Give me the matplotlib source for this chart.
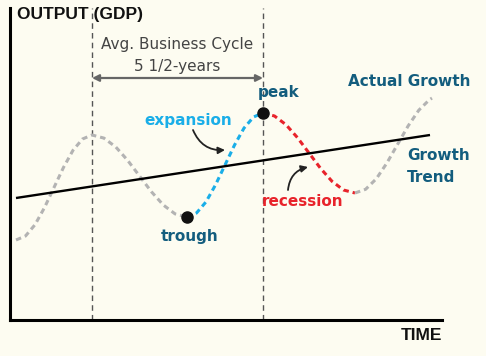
import matplotlib
matplotlib.use("Agg")
import matplotlib.pyplot as plt

# ---- data (time units from left axis, output units from bottom axis) ----
gray1_t = [6, 15.5, 25, 34.5, 44, 53.5, 63, 72.5, 82, 93.9, 105.8, 117.6, 129.5, 141.4, 153.3, 165.1, 177]
gray1_y = [80, 84, 95.3, 112.4, 132.5, 152.6, 169.7, 181, 185, 181.9, 173, 159.7, 144, 128.3, 115, 106.1, 103]

expansion_t = [177, 186.5, 196, 205.5, 215, 224.5, 234, 243.5, 253]
expansion_y = [103, 107, 118.1, 135.1, 155, 174.9, 191.9, 203, 207]

recession_t = [253, 264.5, 276, 287.5, 299, 310.5, 322, 333.5, 345]
recession_y = [207, 204, 195.3, 182.3, 167, 151.7, 138.7, 130, 127]

gray2_t = [345, 355.6, 366.3, 376.9, 387.5, 398.1, 408.8, 419.4, 422]
gray2_y = [127, 130.7, 141.2, 157, 175.5, 194, 209.8, 220.3, 221.9]

trend_t = [6, 420]
trend_y = [122, 185]

cycle_start, cycle_end = 82, 253
trough_pt = (177, 103)
peak_pt = (253, 207)

BG = "#fdfcf1"
BLUE = "#1aaee8"
RED = "#e8232b"
TEAL = "#135d7e"
GRAY = "#b3b3b3"

fig = plt.figure(figsize=(4.86, 3.56), dpi=100, facecolor=BG)
ax = fig.add_axes([10/486, 36/356, 432/486, 312/356], facecolor=BG)
ax.set_xlim(0, 432)
ax.set_ylim(0, 312)
for s in ["top", "right"]:
    ax.spines[s].set_visible(False)
ax.spines["left"].set_linewidth(2.2)
ax.spines["bottom"].set_linewidth(2.2)
ax.set_xticks([])
ax.set_yticks([])

# cycle markers
for xv in (cycle_start, cycle_end):
    ax.plot([xv, xv], [0, 312], color="#555555", lw=1.0, ls=(0, (4, 3)), zorder=1)

# trend
ax.plot(trend_t, trend_y, color="black", lw=1.7, zorder=3, solid_capstyle="butt")

dash = (0, (1.8, 1.3))
ax.plot(gray1_t, gray1_y, color=GRAY, lw=2.2, ls=dash, zorder=2)
ax.plot(expansion_t, expansion_y, color=BLUE, lw=2.2, ls=dash, zorder=2)
ax.plot(recession_t, recession_y, color=RED, lw=2.2, ls=dash, zorder=2)
ax.plot(gray2_t, gray2_y, color=GRAY, lw=2.2, ls=dash, zorder=2)

ax.plot(*trough_pt, "o", color="#111111", ms=8, zorder=5)
ax.plot(*peak_pt, "o", color="#111111", ms=8, zorder=5)

# business cycle arrow
ax.annotate("", xy=(cycle_start, 242), xytext=(cycle_end, 242),
            arrowprops=dict(arrowstyle="<|-|>", color="#666666", lw=1.6,
                            mutation_scale=10, shrinkA=0, shrinkB=0))
ax.text((cycle_start + cycle_end) / 2, 275, "Avg. Business Cycle", ha="center", va="center",
        fontsize=11, color="#444444", family="DejaVu Sans")
ax.text((cycle_start + cycle_end) / 2, 254, "5 1/2-years", ha="center", va="center",
        fontsize=11, color="#444444", family="DejaVu Sans")

# axis titles
ax.text(7, 305, "OUTPUT (GDP)", ha="left", va="center", fontsize=12.5, fontweight="bold",
        color="#111111", family="Liberation Sans", clip_on=False)
ax.text(432, -16, "TIME", ha="right", va="center", fontsize=12.5, fontweight="bold",
        color="#111111", family="Liberation Sans", clip_on=False)

lab = dict(fontsize=11, fontweight="bold", family="DejaVu Sans", va="center")
ax.text(178, 200, "expansion", ha="center", color=BLUE, **lab)
ax.text(269, 227, "peak", ha="center", color=TEAL, **lab)
ax.text(180, 83, "trough", ha="center", color=TEAL, **lab)
ax.text(293, 118, "recession", ha="center", color=RED, **lab)
ax.text(399.5, 238, "Actual Growth", ha="center", color=TEAL, clip_on=False, **lab)
ax.text(397, 165, "Growth", ha="left", color=TEAL, clip_on=False, **lab)
ax.text(397, 142, "Trend", ha="left", color=TEAL, clip_on=False, **lab)

# pointer arrows
ax.annotate("", xy=(215, 170), xytext=(183, 190),
            arrowprops=dict(arrowstyle="-|>", color="#222222", lw=1.3,
                            connectionstyle="arc3,rad=0.35", mutation_scale=10,
                            shrinkA=0, shrinkB=0))
ax.annotate("", xy=(298, 153), xytext=(278, 130),
            arrowprops=dict(arrowstyle="-|>", color="#222222", lw=1.3,
                            connectionstyle="arc3,rad=-0.35", mutation_scale=10,
                            shrinkA=0, shrinkB=0))

fig.savefig("out.png", dpi=100, facecolor=BG)
